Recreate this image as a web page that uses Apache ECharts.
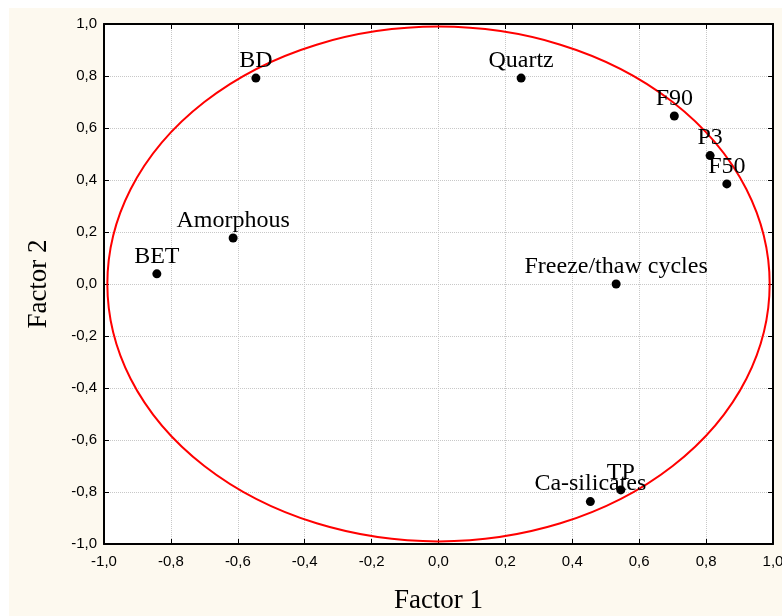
<!DOCTYPE html>
<html lang="en">
<head>
    <meta charset="utf-8">
    <title>Factor loadings</title>
    <script src="https://cdn.jsdelivr.net/npm/echarts@6/dist/echarts.min.js"></script>
</head>
<body style="margin:0;">

    <div id="main" style="width:782px;height:616px;"></div>

<script type="text/javascript">

    // variable names and their loadings on factor 1 / factor 2
    var names = ['BD', 'Quartz', 'F90', 'P3', 'F50', 'Amorphous', 'BET', 'Freeze/thaw cycles', 'Ca-silicates', 'TP'];
    var factor1 = [-0.546, 0.247, 0.705, 0.812, 0.862, -0.614, -0.842, 0.531, 0.454, 0.545];
    var factor2 = [0.792, 0.792, 0.646, 0.494, 0.385, 0.177, 0.039, 0.000, -0.837, -0.792];

    // circle of correlations: centre x, centre y, radius
    var circle = [[0, 0, 0.99]];

    var tickFmt = function (v) {
        return v.toFixed(1).replace('.', ',');
    };

    var points = [];
    for (var i = 0; i < names.length; i++) {
        points.push({name: names[i], value: [factor1[i], factor2[i]]});
    }

    var myChart = echarts.init(document.getElementById('main'));

    var axisLine = {show: true, onZero: false, lineStyle: {color: '#000', width: 2}};
    var axisTick = {show: true, inside: true, length: 5, lineStyle: {color: '#000', width: 1}};
    var gridLine = {show: true, lineStyle: {color: '#c8c8c8', type: 'dotted', width: 1}};
    var labelStyle = {color: '#000', fontSize: 15, fontFamily: 'Liberation Sans', formatter: tickFmt};

    option = {
        backgroundColor: '#ffffff',
        graphic: [{
            type: 'rect',
            left: 9,
            top: 8,
            z: -10,
            shape: {width: 773, height: 608},
            style: {fill: '#fdf9ef'}
        }],
        grid: {
            left: 104,
            right: 9,
            top: 24,
            bottom: 72,
            outerBoundsMode: 'none',
            containLabel: false,
            show: true,
            backgroundColor: '#ffffff',
            borderWidth: 0
        },
        xAxis: [{
            type: 'value',
            min: -1,
            max: 1,
            interval: 0.2,
            name: 'Factor 1',
            nameLocation: 'middle',
            nameGap: 43,
            nameTextStyle: {color: '#000', fontSize: 27, fontFamily: 'Liberation Serif'},
            axisLine: axisLine,
            axisTick: axisTick,
            axisLabel: Object.assign({margin: 10}, labelStyle),
            splitLine: gridLine
        }, {
            type: 'value',
            position: 'top',
            min: -1,
            max: 1,
            interval: 0.2,
            axisLine: axisLine,
            axisTick: axisTick,
            axisLabel: {show: false},
            splitLine: {show: false}
        }],
        yAxis: [{
            type: 'value',
            min: -1,
            max: 1,
            interval: 0.2,
            name: 'Factor 2',
            nameLocation: 'middle',
            nameGap: 52,
            nameRotate: 90,
            nameTextStyle: {color: '#000', fontSize: 27, fontFamily: 'Liberation Serif'},
            axisLine: axisLine,
            axisTick: axisTick,
            axisLabel: Object.assign({margin: 7}, labelStyle),
            splitLine: gridLine
        }, {
            type: 'value',
            position: 'right',
            min: -1,
            max: 1,
            interval: 0.2,
            axisLine: axisLine,
            axisTick: axisTick,
            axisLabel: {show: false},
            splitLine: {show: false}
        }],
        series: [{
            type: 'custom',
            xAxisIndex: 0,
            yAxisIndex: 0,
            silent: true,
            data: circle,
            renderItem: function (params, api) {
                var c = api.coord([api.value(0), api.value(1)]);
                var s = api.size([api.value(2), api.value(2)]);
                var rx = s[0], ry = s[1];
                var d = 'M ' + (c[0] - rx) + ' ' + c[1] +
                    ' A ' + rx + ' ' + ry + ' 0 1 0 ' + (c[0] + rx) + ' ' + c[1] +
                    ' A ' + rx + ' ' + ry + ' 0 1 0 ' + (c[0] - rx) + ' ' + c[1] + ' Z';
                return {
                    type: 'path',
                    shape: {pathData: d},
                    style: {fill: 'none', stroke: '#ff0000', lineWidth: 2}
                };
            }
        }, {
            type: 'scatter',
            xAxisIndex: 0,
            yAxisIndex: 0,
            symbol: 'circle',
            symbolSize: 9,
            itemStyle: {color: '#000', opacity: 1},
            label: {
                show: true,
                position: 'top',
                distance: 1,
                formatter: '{b}',
                color: '#000',
                fontSize: 24,
                fontFamily: 'Liberation Serif'
            },
            data: points
        }]
    };

    myChart.setOption(option);

</script>

</body>
</html>
